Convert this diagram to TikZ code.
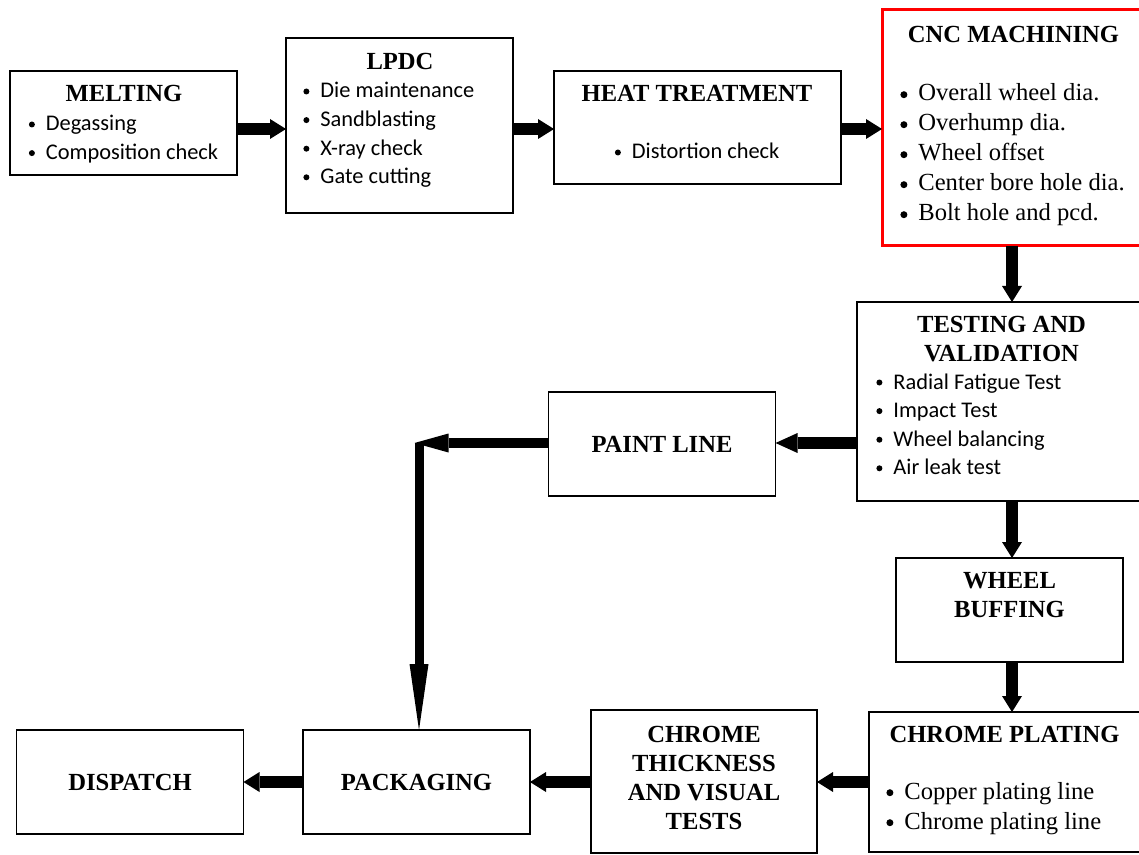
\documentclass[tikz,border=0pt]{standalone}
\usepackage{fontspec}
\usepackage{pict2e}
\setmainfont{Liberation Serif}
\newfontfamily\calibri{Carlito}
\usetikzlibrary{arrows.meta}

\newcommand{\hd}{\fontsize{12.3}{14.5}\selectfont\bfseries}
\newcommand{\cb}{\calibri\fontsize{11.2}{14.3}\selectfont}
\newcommand{\tb}{\fontsize{12.3}{15}\selectfont}
% round bullets of fixed size (Calibri lists / Times lists)
\newcommand{\itm}{\makebox[8.5pt][l]{\setlength{\unitlength}{1pt}%
  \begin{picture}(0,0)\put(1.5,3.25){\circle*{3}}\end{picture}}}
\newcommand{\titm}{\makebox[9pt][l]{\setlength{\unitlength}{1pt}%
  \begin{picture}(0,0)\put(1.75,3.15){\circle*{3.5}}\end{picture}}}
\newcommand{\lst}[1]{\begin{tabular}[t]{@{}l@{}}#1\end{tabular}}
\newcommand{\hds}[1]{\begin{tabular}[t]{@{}c@{}}#1\end{tabular}}

\begin{document}
\begin{tikzpicture}
  [x=0.5pt,y=-0.5pt,
   box/.style={rectangle,draw,line width=0.8pt,inner sep=0,outer sep=0},
   stdbox/.style={box,minimum width=113.5pt,minimum height=52pt},
   cncbox/.style={box,draw=red,line width=1.5pt},
   ttl/.style={inner sep=0,anchor=base,font=\hd},
   bul/.style={inner sep=0,anchor=base west,font=\cb},
   flow/.style={line width=6pt,
                -{Triangle[length=8pt 0 0,width=10pt 0 0,line width=0pt 0 0]}},
   bigflow/.style={line width=6pt,
                -{Triangle[length=11pt 0 0,width=10pt 0 0,line width=0pt 0 0]}},
   longflow/.style={line width=5pt,
                -{Triangle[length=17pt 0 0,width=9.5pt 0 0,line width=0pt 0 0]}},
   downflow/.style={line width=4.5pt,
                -{Triangle[length=33pt 0 0,width=9.5pt 0 0,line width=0pt 0 0]}}]
  \useasboundingbox (0,0) rectangle (1139,855);
  \clip (0,0) rectangle (1139,855);

  % boxes
  \node[stdbox] (melt) at (123.5,123) {};
  \node[box,minimum width=113.5pt,minimum height=87.5pt] (lpdc) at (399.5,125.5) {};
  \node[box,minimum width=143.5pt,minimum height=56.5pt] (heat) at (697.5,127.5) {};
  \node[cncbox,minimum width=131.5pt,minimum height=118pt] (cnc) at (1013.5,128) {};
  \node[box,minimum width=144pt,minimum height=99.5pt] (test) at (1001,401.5) {};
  \node[stdbox,font=\hd] (paint) at (662,444) {PAINT LINE};
  \node[stdbox] (buff) at (1009.5,610) {};
  \node[box,minimum width=138pt,minimum height=70pt] (plate) at (1007,782) {};
  \node[box,minimum width=113pt,minimum height=71.5pt] (thick) at (704,781.5) {};
  \node[stdbox,font=\hd] (pack) at (416.5,782) {PACKAGING};
  \node[stdbox,font=\hd] (disp) at (130,782) {DISPATCH};

  % texts
  \node[ttl] (melt-h) at (124,102) {MELTING};
  \node[bul] (melt-l) at (28.5,131) {\lst{\itm Degassing\\ \itm Composition check}};
  \node[ttl] (lpdc-h) at (400,70) {LPDC};
  \node[bul] (lpdc-l) at (303,98)
    {\lst{\itm Die maintenance\\ \itm Sandblasting\\ \itm X-ray check\\ \itm Gate cutting}};
  \node[ttl] (heat-h) at (697,102) {HEAT TREATMENT};
  \node[bul] (heat-l) at (614.5,159) {\lst{\itm Distortion check}};
  \node[ttl] (cnc-h) at (1013.5,43) {CNC MACHINING};
  \node[bul,font=\tb] (cnc-l) at (900,101)
    {\lst{\titm Overall wheel dia.\\ \titm Overhump dia.\\ \titm Wheel offset\\
          \titm Center bore hole dia.\\ \titm Bolt hole and pcd.}};
  \node[ttl] (test-h) at (1001.5,333) {\hds{TESTING AND\\ VALIDATION}};
  \node[bul] (test-l) at (876,389)
    {\lst{\itm Radial Fatigue Test\\ \itm Impact Test\\ \itm Wheel balancing\\ \itm Air leak test}};
  \node[ttl] (buff-h) at (1009.5,588) {\hds{WHEEL\\ BUFFING}};
  \node[ttl] (plate-h) at (1004.5,742) {CHROME PLATING};
  \node[bul,font=\tb] (plate-l) at (886,799)
    {\lst{\titm Copper plating line\\ \titm Chrome plating line}};
  \node[ttl] (thick-h) at (704,742) {\hds{CHROME\\ THICKNESS\\ AND VISUAL\\ TESTS}};

  % connectors
  \coordinate (r1) at (0,129);
  \coordinate (r2) at (0,443);
  \coordinate (r3) at (0,782);
  \coordinate (c1) at (1012,0);
  \coordinate (corner) at (419,443);
  \draw[flow] (melt.east |- r1) -- (lpdc.west |- r1);
  \draw[flow] (lpdc.east |- r1) -- (heat.west |- r1);
  \draw[flow] (heat.east |- r1) -- (cnc.west |- r1);
  \draw[flow] (cnc.south -| c1) -- (test.north -| c1);
  \draw[flow] (test.south -| c1) -- (buff.north -| c1);
  \draw[flow] (buff.south -| c1) -- (plate.north -| c1);
  \draw[bigflow] (test.west |- r2) -- (paint.east |- r2);
  \draw[longflow] (paint.west |- r2) -- ([xshift=-2.25pt]corner);
  \draw[downflow] (corner) -- (corner |- pack.north);
  \draw[flow] (plate.west |- r3) -- (thick.east |- r3);
  \draw[flow] (thick.west |- r3) -- (pack.east |- r3);
  \draw[flow] (pack.west |- r3) -- (disp.east |- r3);
\end{tikzpicture}
\end{document}
